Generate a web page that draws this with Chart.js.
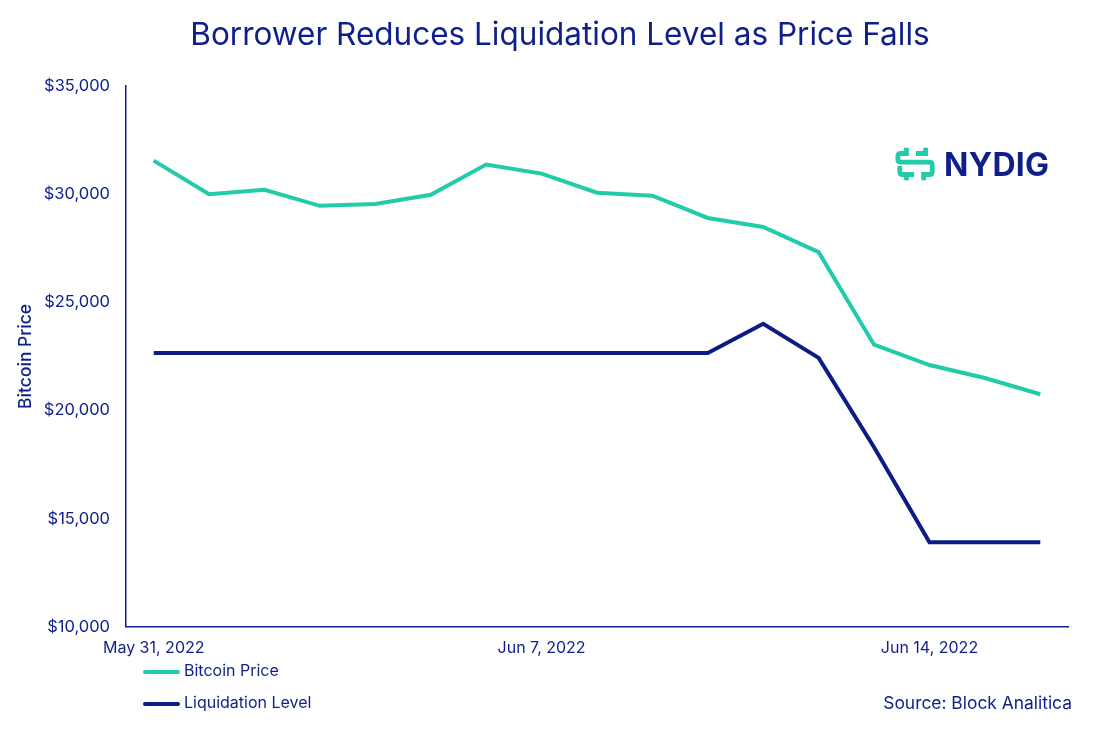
<!DOCTYPE html>
<html>
<head>
<meta charset="utf-8">
<script src="https://cdn.jsdelivr.net/npm/chart.js@4/dist/chart.umd.min.js"></script>
<style>
  body { margin: 0; background: #fff; font-family: Inter, "Noto Sans", sans-serif; }
  #wrap { position: relative; width: 1120px; height: 755px; }
  #title { position: absolute; left: 0; top: 14px; width: 1120px; text-align: center;
           font-size: 31.5px; color: #0E1F8A; }
  .leg { position: absolute; left: 143px; font-size: 16px; color: #0E1F8A; }
  .leg span { display: inline-block; width: 37px; height: 4px; border-radius: 2px;
              vertical-align: middle; margin-right: 4px; }
  #source { position: absolute; right: 48px; top: 692px; font-size: 17.4px; color: #0E1F8A; }
  #logo { position: absolute; left: 895px; top: 144px; display: flex; align-items: center; }
  #logo b { font-size: 32px; color: #0E1F8A; margin-left: 7px; letter-spacing: 0.3px; }
</style>
</head>
<body>
<div id="wrap">
  <canvas id="chart" width="1120" height="755"></canvas>
  <div id="title">Borrower Reduces Liquidation Level as Price Falls</div>
  <div id="logo">
    <svg width="42" height="40" viewBox="0 0 44 40">
      <path d="M12 3 V9 H6 Q3 9 3 12 V15 Q3 18 6 18 H36 Q39 18 39 21 V28 Q39 31 36 31 H30 V37 M32 3 V9 H22 M5 22 V28 Q5 31 8 31 H20 M12 31 V37"
            fill="none" stroke="#22CCAA" stroke-width="5"/>
    </svg>
    <b>NYDIG</b>
  </div>
  <div class="leg" style="top:660px"><span style="background:#22CCAA"></span>Bitcoin Price</div>
  <div class="leg" style="top:692px"><span style="background:#0C1C85"></span>Liquidation Level</div>
  <div id="source">Source: Block Analitica</div>
</div>
<script>
var dates = ["May 31, 2022", "Jun 1, 2022", "Jun 2, 2022", "Jun 3, 2022", "Jun 4, 2022",
  "Jun 5, 2022", "Jun 6, 2022", "Jun 7, 2022", "Jun 8, 2022", "Jun 9, 2022", "Jun 10, 2022",
  "Jun 11, 2022", "Jun 12, 2022", "Jun 13, 2022", "Jun 14, 2022", "Jun 15, 2022", "Jun 16, 2022"];
var bitcoinPrice = [31550, 30000, 30200, 29460, 29550, 29970, 31370, 30950, 30070, 29930,
  28900, 28480, 27320, 23040, 22100, 21500, 20750];
var liquidationLevel = [22660, 22660, 22660, 22660, 22660, 22660, 22660, 22660, 22660, 22660,
  22660, 24010, 22430, 18300, 13910, 13910, 13910];
var shownTicks = [0, 7, 14];

var navy = "#0E1F8A";

new Chart(document.getElementById("chart"), {
  type: "line",
  data: {
    labels: dates,
    datasets: [
      {
        label: "Bitcoin Price",
        data: bitcoinPrice,
        borderColor: "#22CCAA",
        borderWidth: 4,
        pointRadius: 0,
        tension: 0,
        fill: false
      },
      {
        label: "Liquidation Level",
        data: liquidationLevel,
        borderColor: "#0C1C85",
        borderWidth: 4,
        pointRadius: 0,
        tension: 0,
        fill: false
      }
    ]
  },
  options: {
    responsive: false,
    animation: false,
    layout: { padding: { top: 86, left: 0, right: 52, bottom: 85 } },
    plugins: {
      legend: { display: false },
      tooltip: { enabled: false }
    },
    scales: {
      x: {
        offset: true,
        grid: { display: false, drawTicks: false },
        border: { color: navy, width: 1.5 },
        ticks: {
          color: navy,
          font: { family: "Inter", size: 16 },
          padding: 12,
          maxRotation: 0,
          autoSkip: false,
          callback: function(val, i) {
            return shownTicks.indexOf(i) >= 0 ? dates[i] : "";
          }
        }
      },
      y: {
        min: 10000,
        max: 35000,
        afterFit: function(scale) { scale.width = 126; },
        grid: { display: false, drawTicks: false },
        border: { color: navy, width: 1.5 },
        title: {
          display: true,
          text: "Bitcoin Price",
          color: navy,
          font: { family: "Inter", size: 17.5, weight: 500 },
          padding: { top: 15, bottom: 0 }
        },
        ticks: {
          stepSize: 5000,
          color: navy,
          padding: 16,
          font: { family: "Inter", size: 16.5 },
          callback: function(v) { return "$" + v.toLocaleString("en-US"); }
        }
      }
    }
  }
});
</script>
</body>
</html>
